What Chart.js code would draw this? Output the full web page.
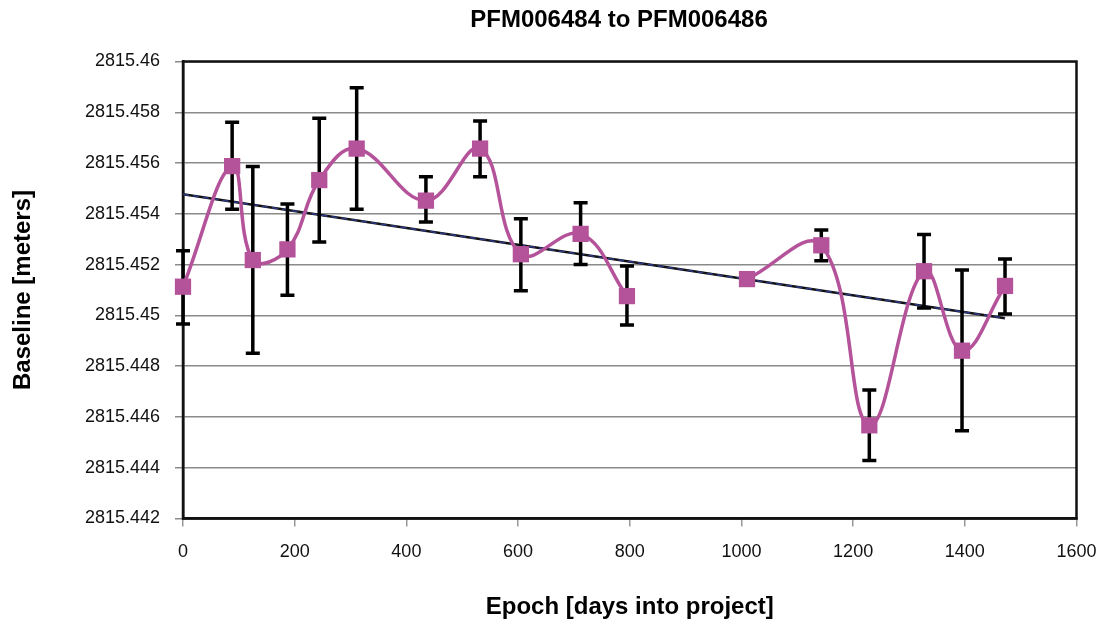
<!DOCTYPE html>
<html><head><meta charset="utf-8">
<script src="https://cdn.jsdelivr.net/npm/chart.js@4.4.0/dist/chart.umd.min.js"></script>
<style>html,body{margin:0;padding:0;background:#fff;} #wrap{width:1099px;height:626px;position:relative;}</style>
</head><body><div id="wrap"><canvas id="c" width="1099" height="626"></canvas></div>
<script>
const chartTitle = 'PFM006484 to PFM006486';
const xAxisTitle = 'Epoch [days into project]';
const yAxisTitle = 'Baseline [meters]';

const epochDays = [0, 88, 125, 187, 244, 311, 435, 532, 605, 712, 795, 1010, 1143, 1229, 1327, 1395, 1472];
const baseline  = [2815.45113, 2815.45588, 2815.45218, 2815.45260, 2815.45533, 2815.45657, 2815.45452, 2815.45657, 2815.45241, 2815.45321, 2815.45076, 2815.45143, 2815.45276, 2815.44567, 2815.45174, 2815.44861, 2815.45116];
const errHigh   = [2815.45255, 2815.45761, 2815.45586, 2815.45439, 2815.45776, 2815.45897, 2815.45546, 2815.45766, 2815.45381, 2815.45444, 2815.45195, null, 2815.45336, 2815.44706, 2815.45319, 2815.45179, 2815.45222];
const errLow    = [2815.44966, 2815.45418, 2815.44851, 2815.45079, 2815.45289, 2815.45418, 2815.45368, 2815.45546, 2815.45097, 2815.45200, 2815.44962, null, 2815.45215, 2815.44428, 2815.45029, 2815.44546, 2815.45005];
// the smoothed line is broken (missing observation) before this index
const lineBreaksBefore = [11];

const trendDays   = [0, 1472];
const trendValues = [2815.45477, 2815.44989];

const xTicks = [0, 200, 400, 600, 800, 1000, 1200, 1400, 1600];
const xTickLabels = ['0', '200', '400', '600', '800', '1000', '1200', '1400', '1600'];
const yTicks = [2815.442, 2815.444, 2815.446, 2815.448, 2815.45, 2815.452, 2815.454, 2815.456, 2815.458, 2815.46];
const yTickLabels = ['2815.442', '2815.444', '2815.446', '2815.448', '2815.45', '2815.452', '2815.454', '2815.456', '2815.458', '2815.46'];

const FONT = "'Liberation Sans', Arial, Helvetica, sans-serif";
const SERIES_COLOR = '#b4529a';

function seriesPoints() {
  const pts = [];
  epochDays.forEach((d, i) => {
    if (lineBreaksBefore.includes(i)) pts.push({x: null, y: null});
    pts.push({x: d, y: baseline[i]});
  });
  return pts;
}

const errorBarPlugin = {
  id: 'errorBars',
  beforeDatasetDraw(chart, args) {
    if (args.index !== 0) return;
    const {ctx, scales: {x, y}} = chart;
    ctx.save();
    ctx.strokeStyle = '#000';
    ctx.lineWidth = 3.5;
    ctx.lineCap = 'butt';
    epochDays.forEach((d, i) => {
      if (errHigh[i] == null) return;
      const px = x.getPixelForValue(d);
      const yt = y.getPixelForValue(errHigh[i]);
      const yb = y.getPixelForValue(errLow[i]);
      ctx.beginPath();
      ctx.moveTo(px, yt); ctx.lineTo(px, yb);
      ctx.moveTo(px - 7, yt); ctx.lineTo(px + 7, yt);
      ctx.moveTo(px - 7, yb); ctx.lineTo(px + 7, yb);
      ctx.stroke();
    });
    ctx.restore();
  }
};

const framePlugin = {
  id: 'frame',
  beforeDatasetsDraw(chart) {
    const {ctx, chartArea: a} = chart;
    ctx.save();
    ctx.strokeStyle = '#111';
    ctx.lineWidth = 2.5;
    ctx.strokeRect(a.left, a.top, a.right - a.left, a.bottom - a.top);
    ctx.restore();
  }
};

const titlePlugin = {
  id: 'customTitle',
  afterDraw(chart) {
    const {ctx} = chart;
    ctx.save();
    ctx.fillStyle = '#000';
    ctx.font = 'bold 24px ' + FONT;
    ctx.textAlign = 'center';
    ctx.textBaseline = 'alphabetic';
    ctx.fillText(chartTitle, 619, 27);
    ctx.restore();
  }
};

new Chart(document.getElementById('c'), {
  type: 'line',
  data: {
    datasets: [
      {
        data: seriesPoints(),
        borderColor: SERIES_COLOR,
        backgroundColor: SERIES_COLOR,
        borderWidth: 3.5,
        pointStyle: 'rect',
        pointRadius: 11.5,
        pointBorderWidth: 0,
        tension: 0.4,
        spanGaps: false,
        clip: false,
        order: 0
      },
      {
        data: trendDays.map((d, i) => ({x: d, y: trendValues[i]})),
        borderColor: '#2e3a86',
        borderWidth: 1.5,
        borderDash: [6, 4],
        pointRadius: 0,
        tension: 0,
        order: 1
      },
      {
        data: trendDays.map((d, i) => ({x: d, y: trendValues[i]})),
        borderColor: '#111',
        borderWidth: 2.5,
        pointRadius: 0,
        tension: 0,
        order: 2
      }
    ]
  },
  options: {
    responsive: false,
    animation: false,
    layout: {padding: {top: 61.5, right: 22.5, bottom: 0, left: 0}},
    plugins: {legend: {display: false}, tooltip: {enabled: false}, title: {display: false}},
    scales: {
      x: {
        type: 'linear',
        min: 0, max: 1600,
        afterBuildTicks: s => { s.ticks = xTicks.map(v => ({value: v})); },
        afterFit: s => { s.height = 107.5; s.paddingLeft = 0; s.paddingRight = 0; },
        ticks: {color: '#111', font: {family: FONT, size: 18}, padding: 15, maxRotation: 0,
          callback: (v, i) => xTickLabels[i]},
        grid: {drawOnChartArea: false, drawTicks: true, tickLength: 8, color: '#999', lineWidth: 1.5},
        border: {display: true, color: '#111', width: 2.5},
        title: {display: true, text: xAxisTitle, color: '#000', font: {family: FONT, size: 24, weight: 'bold'}, padding: {top: 0, bottom: 4.6}}
      },
      y: {
        type: 'linear',
        min: 2815.442, max: 2815.46,
        afterBuildTicks: s => { s.ticks = yTicks.map(v => ({value: v})); },
        afterFit: s => { s.width = 183; s.paddingTop = 0; s.paddingBottom = 0; },
        ticks: {
          color: '#111', font: {family: FONT, size: 18}, padding: 15,
          callback: (v, i) => yTickLabels[i]
        },
        grid: {color: '#8a8a8a', lineWidth: 1.5, tickLength: 8, drawTicks: true},
        border: {display: true, color: '#111', width: 2.5},
        title: {display: true, text: yAxisTitle, color: '#000', font: {family: FONT, size: 24, weight: 'bold'}, padding: {top: 8.6, bottom: 0}}
      }
    }
  },
  plugins: [errorBarPlugin, framePlugin, titlePlugin]
});
</script>
</body></html>
